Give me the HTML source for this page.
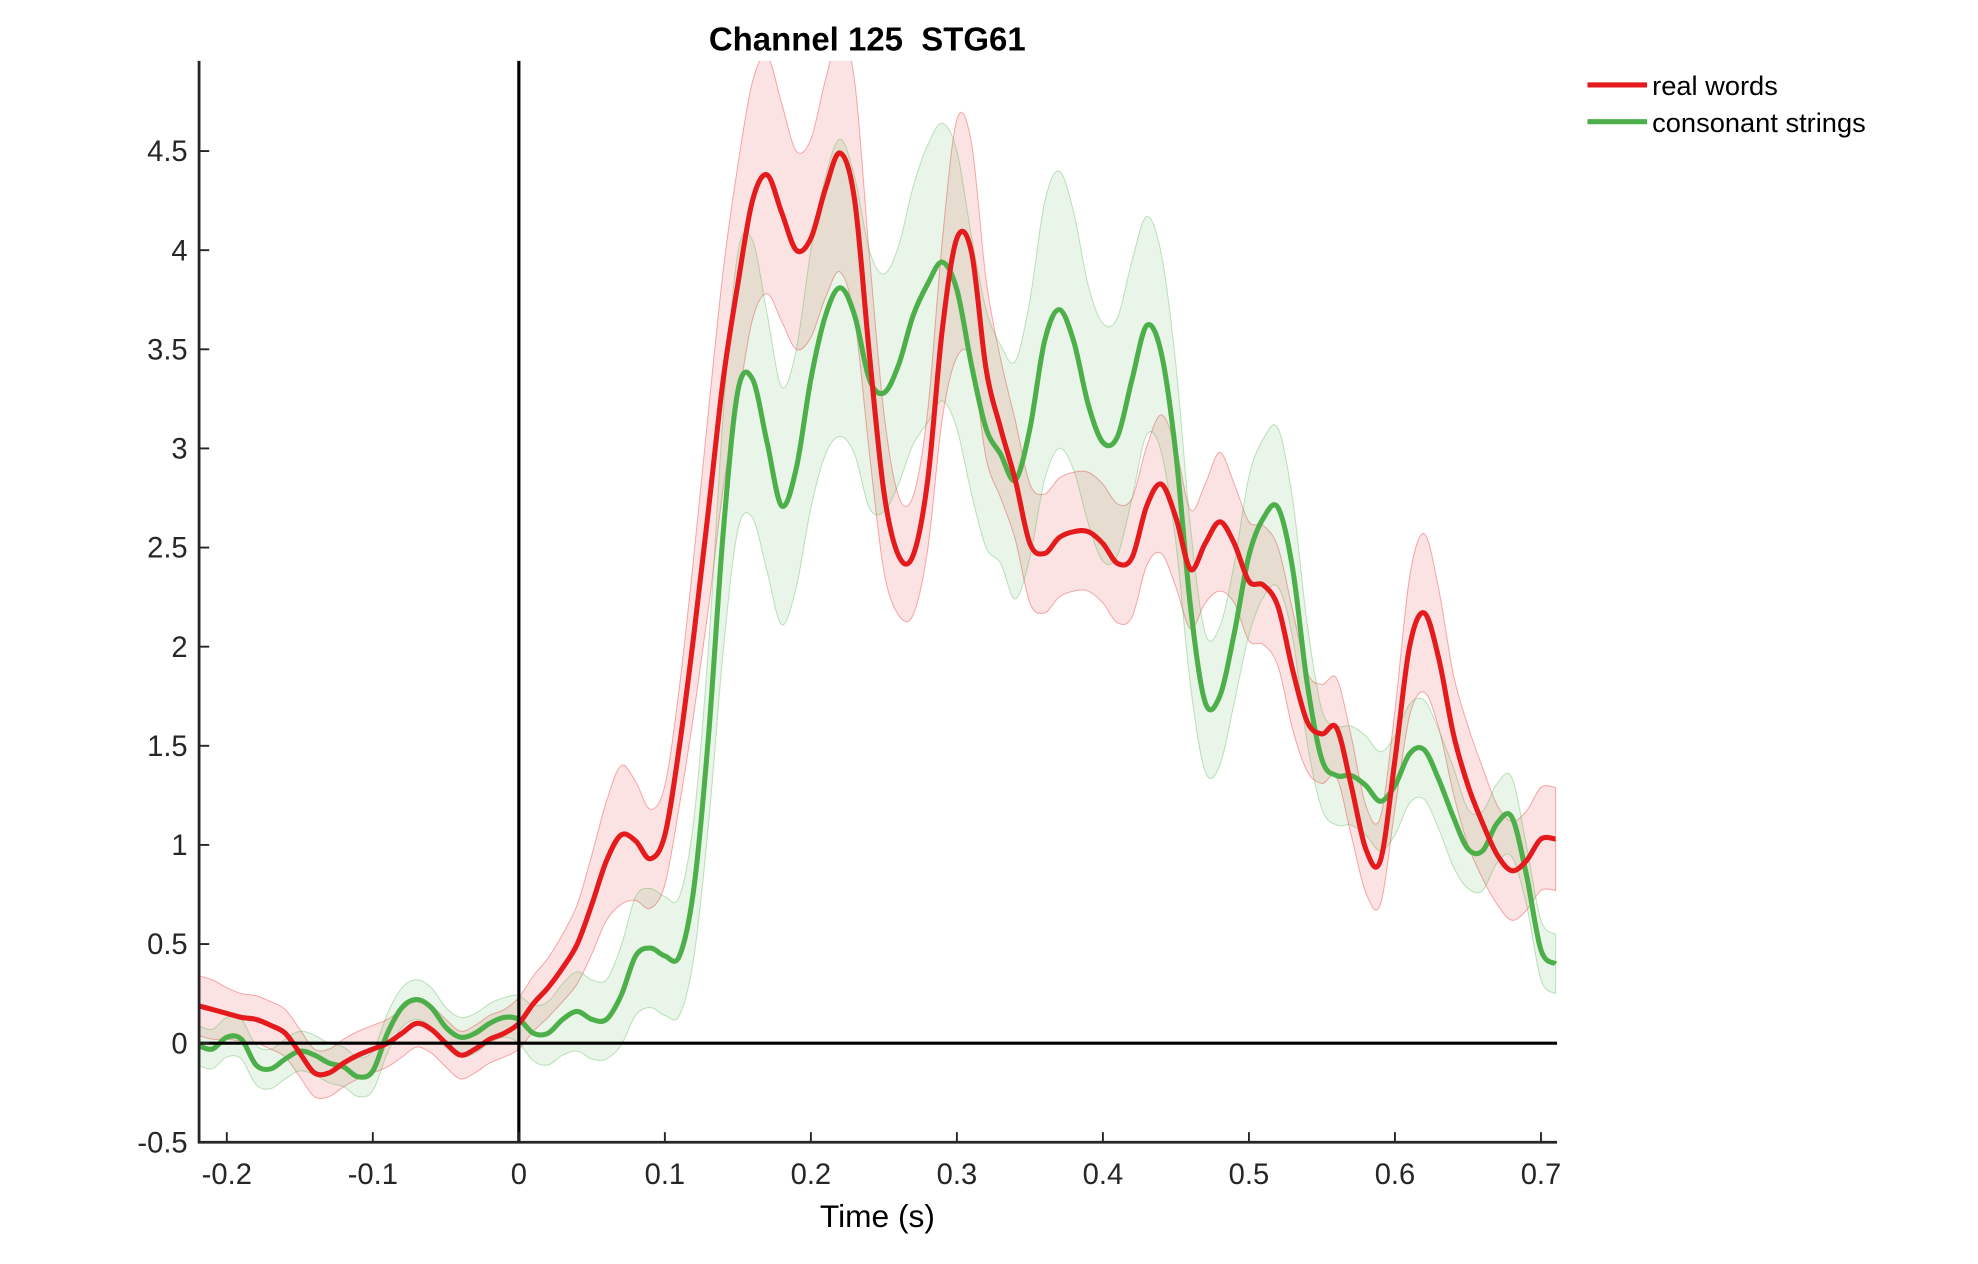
<!DOCTYPE html>
<html><head><meta charset="utf-8"><style>
html,body{margin:0;padding:0;background:#fff;}
svg{display:block;font-family:"Liberation Sans",Arial,sans-serif;}
</style></head><body>
<svg id="chart" width="1978" height="1264" viewBox="0 0 1560 997" preserveAspectRatio="none">
<defs><clipPath id="plotclip"><rect x="157" y="48" width="1071" height="853"/></clipPath></defs>
<text x="684" y="40" text-anchor="middle" font-size="26" font-weight="bold">Channel 125&#160;&#160;STG61</text>
<g id="bands" clip-path="url(#plotclip)"></g>
<g id="lines" clip-path="url(#plotclip)"></g>
<g id="axes"></g>
<text x="692" y="968" text-anchor="middle" font-size="25">Time (s)</text>
<g>
<line x1="1252" y1="67" x2="1299" y2="67" stroke="#e41a1c" stroke-width="4"/>
<text x="1303" y="75" font-size="21.5">real words</text>
<line x1="1252" y1="96" x2="1299" y2="96" stroke="#4daf4a" stroke-width="4"/>
<text x="1303" y="104" font-size="21.5">consonant strings</text>
</g>
</svg>
<script>
const tStart = -0.22, tStep = 0.01;
const redMean = [0.19,0.17,0.15,0.13,0.12,0.09,0.05,-0.05,-0.15,-0.15,-0.1,-0.06,-0.03,0.0,0.05,0.1,0.07,0.0,-0.06,-0.03,0.02,0.05,
0.1,0.2,0.28,0.38,0.5,0.7,0.92,1.05,1.02,0.93,1.05,1.5,2.07,2.7,3.35,3.83,4.25,4.38,4.19,4.0,4.06,4.31,4.49,4.25,3.48,2.78,2.46,2.46,2.84,3.6,4.06,3.99,3.4,3.1,2.84,2.52,2.47,2.55,2.58,2.58,2.52,2.42,2.45,2.71,2.82,2.65,2.39,2.52,2.63,2.52,2.33,2.31,2.2,1.88,1.62,1.56,1.59,1.3,0.98,0.92,1.43,2.0,2.17,1.94,1.56,1.3,1.11,0.95,0.87,0.92,1.03,1.03];
const greenMean = [-0.01,-0.03,0.03,0.02,-0.11,-0.13,-0.08,-0.04,-0.06,-0.1,-0.12,-0.17,-0.14,0.05,0.18,0.22,0.18,0.08,0.03,0.05,0.1,0.13,
0.12,0.05,0.05,0.12,0.16,0.12,0.12,0.24,0.44,0.48,0.44,0.44,0.79,1.56,2.58,3.29,3.35,3.03,2.71,2.9,3.35,3.67,3.81,3.67,3.35,3.28,3.42,3.67,3.83,3.94,3.8,3.42,3.1,2.97,2.84,3.1,3.54,3.7,3.54,3.22,3.03,3.06,3.35,3.62,3.48,2.97,2.2,1.72,1.75,2.07,2.46,2.65,2.7,2.39,1.81,1.43,1.35,1.35,1.3,1.22,1.3,1.46,1.48,1.33,1.14,0.98,0.97,1.11,1.14,0.85,0.47,0.4];
const redErr = [0.15,0.15,0.13,0.12,0.12,0.12,0.12,0.12,0.12,0.12,0.12,0.12,0.12,0.12,0.12,0.12,0.12,0.12,0.12,0.12,0.12,0.12,
0.13,0.14,0.15,0.17,0.2,0.25,0.3,0.35,0.3,0.25,0.25,0.3,0.4,0.5,0.55,0.6,0.6,0.6,0.55,0.5,0.5,0.55,0.6,0.6,0.5,0.4,0.3,0.3,0.35,0.45,0.6,0.55,0.45,0.35,0.3,0.3,0.3,0.3,0.3,0.3,0.3,0.3,0.3,0.3,0.35,0.35,0.3,0.3,0.35,0.3,0.3,0.3,0.3,0.3,0.25,0.25,0.25,0.25,0.22,0.22,0.25,0.35,0.4,0.35,0.3,0.3,0.28,0.25,0.25,0.25,0.26,0.26];
const greenErr = [0.1,0.1,0.1,0.1,0.1,0.1,0.1,0.1,0.1,0.1,0.1,0.1,0.1,0.1,0.1,0.1,0.1,0.1,0.1,0.1,0.1,0.1,
0.12,0.14,0.16,0.18,0.2,0.2,0.2,0.25,0.3,0.3,0.3,0.3,0.35,0.45,0.6,0.7,0.7,0.65,0.6,0.6,0.65,0.7,0.75,0.7,0.65,0.6,0.6,0.65,0.7,0.7,0.7,0.65,0.6,0.55,0.6,0.65,0.7,0.7,0.65,0.6,0.6,0.6,0.6,0.55,0.5,0.45,0.4,0.35,0.35,0.35,0.4,0.4,0.4,0.35,0.3,0.25,0.25,0.25,0.25,0.25,0.25,0.25,0.25,0.25,0.25,0.2,0.2,0.2,0.2,0.15,0.15,0.15];
const xTicks = [-0.2,-0.1,0,0.1,0.2,0.3,0.4,0.5,0.6,0.7];
const xTickLabels = ["-0.2","-0.1","0","0.1","0.2","0.3","0.4","0.5","0.6","0.7"];
const yTicks = [-0.5,0,0.5,1,1.5,2,2.5,3,3.5,4,4.5];
const yTickLabels = ["-0.5","0","0.5","1","1.5","2","2.5","3","3.5","4","4.5"];

const NS = "http://www.w3.org/2000/svg";
const X0 = 157, X1 = 1228, Y0 = 901, Y1 = 48;
const xMin = -0.219, xMax = 0.711, yMin = -0.5, yMax = 4.955;
function xs(t){ return X0 + (t - xMin) / (xMax - xMin) * (X1 - X0); }
function ys(v){ return Y0 - (v - yMin) / (yMax - yMin) * (Y0 - Y1); }
function pts(arr){ return arr.map((v,i)=>[xs(tStart + i*tStep), ys(v)]); }
function smooth(p){
  let d = "M" + p[0][0].toFixed(2) + "," + p[0][1].toFixed(2);
  for (let i=0;i<p.length-1;i++){
    const a=p[Math.max(i-1,0)], b=p[i], c=p[i+1], e=p[Math.min(i+2,p.length-1)];
    const c1=[b[0]+(c[0]-a[0])/6, b[1]+(c[1]-a[1])/6];
    const c2=[c[0]-(e[0]-b[0])/6, c[1]-(e[1]-b[1])/6];
    d += " C"+c1[0].toFixed(2)+","+c1[1].toFixed(2)+" "+c2[0].toFixed(2)+","+c2[1].toFixed(2)+" "+c[0].toFixed(2)+","+c[1].toFixed(2);
  }
  return d;
}
function bandPath(mean, err){
  const up = pts(mean.map((v,i)=>v+err[i]));
  const lo = pts(mean.map((v,i)=>v-err[i])).reverse();
  let d = smooth(up);
  d += " L" + smooth(lo).slice(1) + " Z";
  return d;
}
const bands = document.getElementById("bands");
const lines = document.getElementById("lines");
const axes = document.getElementById("axes");

const rb = document.createElementNS(NS,"path");
rb.setAttribute("d", bandPath(redMean, redErr));
rb.setAttribute("fill","rgba(228,26,28,0.12)");
rb.setAttribute("stroke","rgba(228,26,28,0.35)");
rb.setAttribute("stroke-width","0.8");


bands.appendChild(rb);

const gb = document.createElementNS(NS,"path");
gb.setAttribute("d", bandPath(greenMean, greenErr));
gb.setAttribute("fill","rgba(77,175,74,0.12)");
gb.setAttribute("stroke","rgba(77,175,74,0.35)");
gb.setAttribute("stroke-width","0.8");


bands.appendChild(gb);

const zl = document.createElementNS(NS,"line");
zl.setAttribute("x1",X0); zl.setAttribute("x2",X1);
zl.setAttribute("y1",ys(0)); zl.setAttribute("y2",ys(0));
zl.setAttribute("stroke","#000"); zl.setAttribute("stroke-width","2.5");


axes.appendChild(zl);
const ol = document.createElementNS(NS,"line");
ol.setAttribute("x1",xs(0)); ol.setAttribute("x2",xs(0));
ol.setAttribute("y1",Y1); ol.setAttribute("y2",Y0);
ol.setAttribute("stroke","#000"); ol.setAttribute("stroke-width","2.5");


axes.appendChild(ol);

const gl = document.createElementNS(NS,"path");
gl.setAttribute("d", smooth(pts(greenMean)));
gl.setAttribute("fill","none"); gl.setAttribute("stroke","#4daf4a"); gl.setAttribute("stroke-width","4");


lines.appendChild(gl);
const rl = document.createElementNS(NS,"path");
rl.setAttribute("d", smooth(pts(redMean)));
rl.setAttribute("fill","none"); rl.setAttribute("stroke","#e41a1c"); rl.setAttribute("stroke-width","4");


lines.appendChild(rl);

const ax = document.createElementNS(NS,"path");
ax.setAttribute("d","M"+X0+","+Y1+" L"+X0+","+Y0+" L"+X1+","+Y0);
ax.setAttribute("fill","none"); ax.setAttribute("stroke","#262626"); ax.setAttribute("stroke-width","2.2");


axes.appendChild(ax);

xTicks.forEach((t,i)=>{
  const tk = document.createElementNS(NS,"line");
  tk.setAttribute("x1",xs(t)); tk.setAttribute("x2",xs(t));
  tk.setAttribute("y1",Y0); tk.setAttribute("y2",Y0-8);
  tk.setAttribute("stroke","#262626"); tk.setAttribute("stroke-width","1.5");
  
  
  axes.appendChild(tk);
  const tx = document.createElementNS(NS,"text");
  tx.setAttribute("x",xs(t)); tx.setAttribute("y",Y0+33);
  tx.setAttribute("text-anchor","middle"); tx.setAttribute("font-size","23"); tx.setAttribute("fill","#262626");
  tx.textContent = xTickLabels[i];
  
  
  axes.appendChild(tx);
});
yTicks.forEach((v,i)=>{
  const tk = document.createElementNS(NS,"line");
  tk.setAttribute("x1",X0); tk.setAttribute("x2",X0+8);
  tk.setAttribute("y1",ys(v)); tk.setAttribute("y2",ys(v));
  tk.setAttribute("stroke","#262626"); tk.setAttribute("stroke-width","1.5");
  
  
  axes.appendChild(tk);
  const tx = document.createElementNS(NS,"text");
  tx.setAttribute("x",X0-9); tx.setAttribute("y",ys(v)+8);
  tx.setAttribute("text-anchor","end"); tx.setAttribute("font-size","23"); tx.setAttribute("fill","#262626");
  tx.textContent = yTickLabels[i];
  
  
  axes.appendChild(tx);
});
</script>
</body></html>
